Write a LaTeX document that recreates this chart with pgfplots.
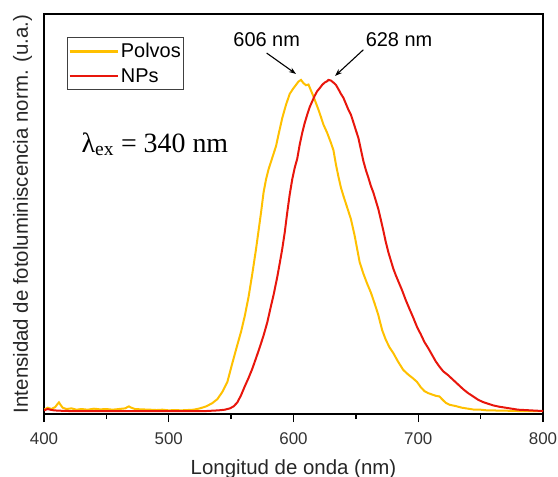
\documentclass[border=0pt]{standalone}
\usepackage{fontspec}
\setmainfont{Liberation Sans}
\newfontfamily\timesfont{Liberation Serif}
\usepackage{pgfplots}
\pgfplotsset{compat=1.18}
\usetikzlibrary{arrows.meta}

\definecolor{polvos}{RGB}{255,192,0}
\definecolor{nps}{RGB}{232,22,12}

% Normalised photoluminescence spectra (lambda_ex = 340 nm)
\pgfplotstableread{
x y
400 0.004
403 0.010
406 0.006
409 0.012
411 0.022
412 0.026
413 0.020
415 0.010
418 0.006
422 0.008
426 0.004
430 0.006
435 0.004
440 0.007
445 0.005
450 0.006
455 0.004
460 0.006
465 0.008
468 0.014
470 0.010
473 0.006
478 0.005
485 0.004
490 0.003
495 0.004
500 0.002
505 0.003
510 0.002
515 0.003
520 0.004
525 0.008
530 0.014
535 0.024
539 0.036
543 0.058
547 0.088
551 0.145
555 0.200
558 0.240
561 0.288
564 0.345
567 0.415
570 0.490
572 0.545
574 0.600
576 0.660
578 0.700
580 0.730
583 0.765
586 0.800
588 0.835
591 0.885
594 0.925
597 0.958
600 0.975
602 0.985
604 0.995
606 1.000
608 0.990
610 0.984
612 0.986
614 0.968
616 0.950
618 0.930
620 0.910
622 0.888
624 0.865
627 0.840
630 0.810
632 0.788
634 0.745
636 0.708
638 0.675
640 0.650
643 0.615
646 0.580
649 0.530
651 0.490
653 0.450
656 0.415
659 0.385
662 0.358
665 0.325
668 0.290
671 0.245
674 0.215
677 0.192
680 0.175
684 0.148
688 0.124
692 0.110
696 0.098
699 0.088
702 0.072
705 0.060
708 0.054
711 0.050
714 0.046
717 0.044
719 0.036
722 0.025
725 0.019
730 0.015
735 0.010
740 0.007
745 0.004
750 0.004
755 0.002
760 0.002
765 0.001
770 0.001
780 0.000
790 0.000
800 0.000
}\polvos

\pgfplotstableread{
x y
400 0.002
403 0.006
405 0.004
408 0.002
412 0.001
420 0.000
440 0.000
460 0.000
480 0.000
500 0.000
520 0.000
530 0.000
535 0.001
540 0.002
545 0.004
549 0.008
552 0.014
555 0.026
558 0.048
561 0.075
564 0.100
567 0.128
570 0.160
573 0.193
576 0.228
579 0.268
582 0.318
584 0.350
587 0.405
589 0.447
591 0.490
593 0.540
595 0.600
597 0.655
599 0.700
601 0.735
603 0.762
605 0.805
607 0.840
609 0.870
611 0.895
613 0.918
615 0.935
617 0.952
619 0.966
621 0.975
623 0.985
625 0.992
627 0.996
628 1.000
630 0.998
632 0.992
634 0.985
636 0.972
638 0.958
640 0.946
642 0.928
644 0.910
646 0.895
648 0.872
650 0.848
652 0.825
654 0.790
656 0.755
658 0.728
660 0.705
662 0.680
664 0.660
666 0.635
668 0.610
670 0.578
672 0.545
674 0.510
676 0.480
678 0.455
680 0.430
682 0.410
684 0.392
687 0.365
690 0.335
693 0.308
696 0.282
699 0.254
702 0.232
705 0.208
708 0.190
711 0.170
714 0.150
717 0.134
720 0.120
724 0.108
728 0.094
732 0.080
736 0.066
740 0.054
744 0.044
748 0.034
752 0.027
756 0.022
760 0.017
765 0.013
770 0.010
775 0.007
780 0.004
785 0.003
790 0.002
795 0.001
800 0.000
}\nps

\begin{document}
\begin{tikzpicture}
\begin{axis}[
  width=499bp, height=400bp, scale only axis,
  xmin=400, xmax=800, ymin=-0.009, ymax=1.199,
  xtick={400,500,...,800}, minor x tick num=1,
  ytick=\empty,
  xtick pos=lower, tick align=outside,
  major tick length=8bp, minor tick length=5bp,
  every tick/.style={black, line width=1.4bp},
  axis line style={line width=1.6bp},
  /pgf/number format/assume math mode=true,
  tick label style={font=\fontsize{17}{20}\selectfont, text=black!80},
  xticklabel style={yshift=-7bp},
  xlabel={Longitud de onda (nm)},
  ylabel={Intensidad de fotoluminiscencia norm. (u.a.)},
  label style={font=\fontsize{20.5}{24}\selectfont, text=black!85},
  xlabel style={at={(axis description cs:0.5,0)}, anchor=base,
    yshift=-60bp, inner sep=0pt},
  ylabel style={at={(axis description cs:0,0.5)}, anchor=base,
    yshift=16bp, inner sep=0pt},
  legend style={at={(0.046,0.9425)}, anchor=north west,
    draw=black!75, line width=0.8bp,
    font=\fontsize{20}{22}\selectfont,
    inner xsep=1bp, inner ysep=4bp,
    row sep=5bp},
  legend cell align=left,
  legend image code/.code={\draw[#1, line width=2.6bp] (0bp,0bp) -- (48bp,0bp);},
  clip=true,
]
\addplot[polvos, line width=2bp] table[x=x, y=y] {\polvos};
\addlegendentry{Polvos}
\addplot[nps, line width=2bp] table[x=x, y=y] {\nps};
\addlegendentry{NPs}

\node[font=\timesfont\fontsize{28}{32}\selectfont, anchor=base west]
  at (axis cs:427.3,0.782) {λ\textsubscript{ex} = 340 nm};

\node[font=\fontsize{20}{24}\selectfont] at (axis cs:578.5,1.121) {606 nm};
\node[font=\fontsize{20}{24}\selectfont] at (axis cs:684.6,1.121) {628 nm};
\draw[-{Stealth[length=7bp,width=5bp]}, line width=1.1bp]
  (axis cs:578.5,1.081) -- (axis cs:602.0,1.018);
\draw[-{Stealth[length=7bp,width=5bp]}, line width=1.1bp]
  (axis cs:656.0,1.091) -- (axis cs:633.3,1.012);
\end{axis}
\pgfresetboundingbox
\path[use as bounding box]
  ([shift={(-44bp,-63bp)}]current axis.south west)
  rectangle ([shift={(15bp,14bp)}]current axis.north east);
\end{tikzpicture}
\end{document}
